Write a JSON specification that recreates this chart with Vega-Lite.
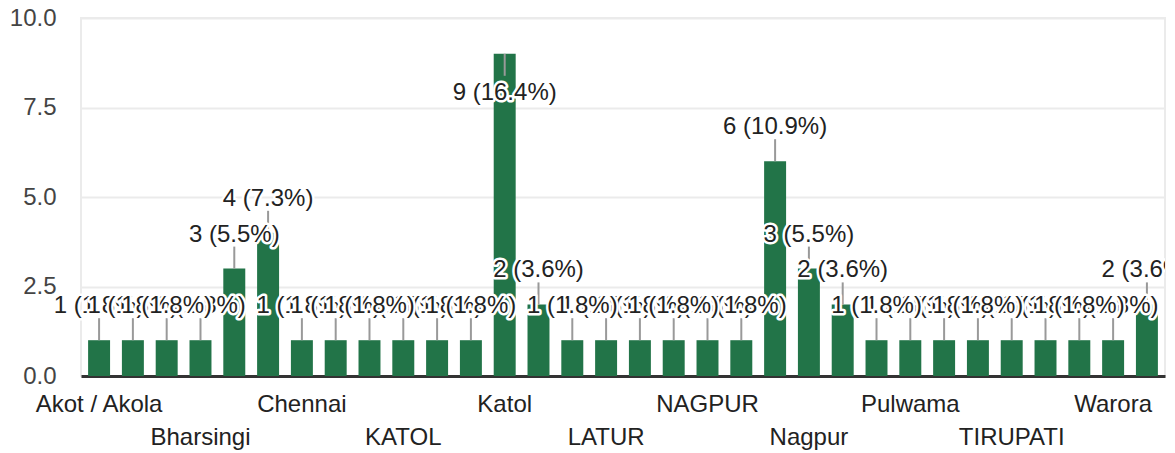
{
  "$schema": "https://vega.github.io/schema/vega-lite/v6.json",
  "autosize": "none",
  "width": 1084,
  "height": 358,
  "padding": {"left": 81, "top": 18, "right": 10, "bottom": 77},
  "background": "white",
  "config": {
    "font": "Liberation Sans",
    "view": {"stroke": "#ebebeb", "strokeWidth": 2}
  },
  "data": {
    "values": [
      {"city": "Akot / Akola", "count": 1, "label": "1 (1.8%)"},
      {"city": "Amravati", "count": 1, "label": "1 (1.8%)"},
      {"city": "Betul", "count": 1, "label": "1 (1.8%)"},
      {"city": "Bharsingi", "count": 1, "label": "1 (1.8%)"},
      {"city": "Bhiwapur", "count": 3, "label": "3 (5.5%)"},
      {"city": "Chandrapur", "count": 4, "label": "4 (7.3%)"},
      {"city": "Chennai", "count": 1, "label": "1 (1.8%)"},
      {"city": "Delhi", "count": 1, "label": "1 (1.8%)"},
      {"city": "Hinganghat", "count": 1, "label": "1 (1.8%)"},
      {"city": "KATOL", "count": 1, "label": "1 (1.8%)"},
      {"city": "Kalmeshwar", "count": 1, "label": "1 (1.8%)"},
      {"city": "Kamptee", "count": 1, "label": "1 (1.8%)"},
      {"city": "Katol", "count": 9, "label": "9 (16.4%)"},
      {"city": "Kondhali", "count": 2, "label": "2 (3.6%)"},
      {"city": "Kuhi", "count": 1, "label": "1 (1.8%)"},
      {"city": "LATUR", "count": 1, "label": "1 (1.8%)"},
      {"city": "Mouda", "count": 1, "label": "1 (1.8%)"},
      {"city": "Mumbai", "count": 1, "label": "1 (1.8%)"},
      {"city": "NAGPUR", "count": 1, "label": "1 (1.8%)"},
      {"city": "NARKHED", "count": 1, "label": "1 (1.8%)"},
      {"city": "Nagpur ", "count": 6, "label": "6 (10.9%)"},
      {"city": "Nagpur", "count": 3, "label": "3 (5.5%)"},
      {"city": "Narkhed", "count": 2, "label": "2 (3.6%)"},
      {"city": "Pandhurna", "count": 1, "label": "1 (1.8%)"},
      {"city": "Pulwama", "count": 1, "label": "1 (1.8%)"},
      {"city": "Pune", "count": 1, "label": "1 (1.8%)"},
      {"city": "Saoner", "count": 1, "label": "1 (1.8%)"},
      {"city": "TIRUPATI", "count": 1, "label": "1 (1.8%)"},
      {"city": "Umred", "count": 1, "label": "1 (1.8%)"},
      {"city": "Wardha", "count": 1, "label": "1 (1.8%)"},
      {"city": "Warora", "count": 1, "label": "1 (1.8%)"},
      {"city": "Yavatmal", "count": 2, "label": "2 (3.6%)"}
    ]
  },
  "transform": [{"window": [{"op": "row_number", "as": "idx"}]}],
  "encoding": {
    "x": {
      "field": "city",
      "type": "nominal",
      "sort": null,
      "scale": {"paddingInner": 0.35, "paddingOuter": 0.21},
      "axis": {
        "title": null,
        "values": ["Akot / Akola", "Bharsingi", "Chennai", "KATOL", "Katol", "LATUR", "NAGPUR", "Nagpur", "Pulwama", "TIRUPATI", "Warora"],
        "labelExpr": "indexof(['Bharsingi','KATOL','LATUR','Nagpur','TIRUPATI'], datum.label) >= 0 ? ['', datum.label] : datum.label",
        "labelAngle": 0,
        "labelFontSize": 24,
        "labelColor": "#222222",
        "labelPadding": 16,
        "labelLineHeight": 33,
        "labelOverlap": false,
        "labelBound": false,
        "labelFlush": false,
        "ticks": false,
        "grid": false,
        "domainColor": "#333333",
        "domainWidth": 3
      }
    },
    "y": {
      "field": "count",
      "type": "quantitative",
      "scale": {"domain": [0, 10], "nice": false},
      "axis": {
        "title": null,
        "values": [0, 2.5, 5, 7.5, 10],
        "format": ".1f",
        "labelFontSize": 24,
        "labelColor": "#444444",
        "labelPadding": 25,
        "ticks": false,
        "domain": false,
        "gridColor": "#ebebeb",
        "gridWidth": 2
      }
    }
  },
  "layer": [
    {"mark": {"type": "bar", "color": "#227448"}},
    {
      "transform": [{"filter": "datum.count < 9"}],
      "mark": {"type": "rule", "color": "#999999", "strokeWidth": 2, "y2Offset": -22},
      "encoding": {"y2": {"field": "count"}}
    },
    {
      "transform": [{"filter": "datum.count >= 9"}],
      "mark": {"type": "rule", "color": "#999999", "strokeWidth": 2, "y2Offset": 22},
      "encoding": {"y2": {"field": "count"}}
    },
    {
      "transform": [{"filter": "datum.count >= 9"}],
      "mark": {"type": "text", "fontSize": 24, "dy": 39, "baseline": "middle", "fill": "white", "stroke": "white", "strokeWidth": 5, "strokeJoin": "round"},
      "encoding": {"text": {"field": "label"}}
    },
    {
      "transform": [{"filter": "datum.count >= 9"}],
      "mark": {"type": "text", "fontSize": 24, "dy": 39, "baseline": "middle", "color": "#222222"},
      "encoding": {"text": {"field": "label"}}
    },
    {
      "transform": [{"filter": "datum.count < 9 && (datum.idx - 1) % 3 == 0"}],
      "mark": {"type": "text", "fontSize": 24, "dy": -34, "baseline": "middle", "fill": "white", "stroke": "white", "strokeWidth": 5, "strokeJoin": "round"},
      "encoding": {"text": {"field": "label"}}
    },
    {
      "transform": [{"filter": "datum.count < 9 && (datum.idx - 1) % 3 == 0"}],
      "mark": {"type": "text", "fontSize": 24, "dy": -34, "baseline": "middle", "color": "#222222"},
      "encoding": {"text": {"field": "label"}}
    },
    {
      "transform": [{"filter": "datum.count < 9 && (datum.idx - 1) % 3 == 1"}],
      "mark": {"type": "text", "clip": true, "fontSize": 24, "dy": -34, "baseline": "middle", "fill": "white", "stroke": "white", "strokeWidth": 5, "strokeJoin": "round"},
      "encoding": {"text": {"field": "label"}}
    },
    {
      "transform": [{"filter": "datum.count < 9 && (datum.idx - 1) % 3 == 1"}],
      "mark": {"type": "text", "clip": true, "fontSize": 24, "dy": -34, "baseline": "middle", "color": "#222222"},
      "encoding": {"text": {"field": "label"}}
    },
    {
      "transform": [{"filter": "datum.count < 9 && (datum.idx - 1) % 3 == 2"}],
      "mark": {"type": "text", "fontSize": 24, "dy": -34, "baseline": "middle", "fill": "white", "stroke": "white", "strokeWidth": 5, "strokeJoin": "round"},
      "encoding": {"text": {"field": "label"}}
    },
    {
      "transform": [{"filter": "datum.count < 9 && (datum.idx - 1) % 3 == 2"}],
      "mark": {"type": "text", "fontSize": 24, "dy": -34, "baseline": "middle", "color": "#222222"},
      "encoding": {"text": {"field": "label"}}
    }
  ]
}
